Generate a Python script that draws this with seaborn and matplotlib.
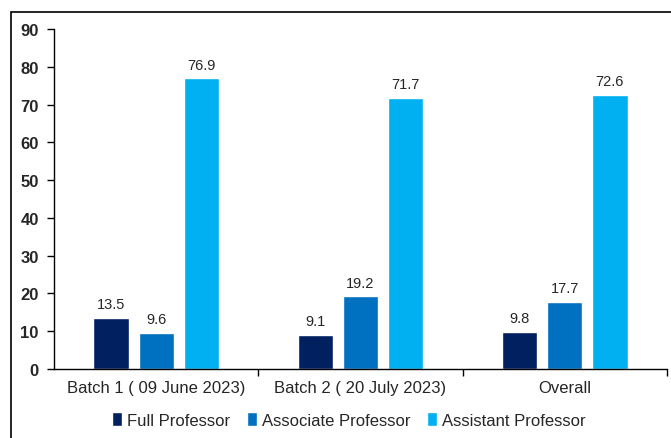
import numpy as np
import pandas as pd
import matplotlib.pyplot as plt
import seaborn as sns
from matplotlib.patches import Rectangle

batches = ['Batch 1 ( 09 June 2023)', 'Batch 2 ( 20 July 2023)', 'Overall']
ranks = ['Full Professor', 'Associate Professor', 'Assistant Professor']
full_prof = [13.5, 9.1, 9.8]
assoc_prof = [9.6, 19.2, 17.7]
asst_prof = [76.9, 71.7, 72.6]
colors = ['#002060', '#0070C0', '#00B0F0']

rows = []
for rank, vals in zip(ranks, [full_prof, assoc_prof, asst_prof]):
    for b, v in zip(batches, vals):
        rows.append({'batch': b, 'rank': rank, 'pct': v})
df = pd.DataFrame(rows)

sns.set_style('white')
plt.rcParams['font.family'] = ['Liberation Sans', 'DejaVu Sans']

fig = plt.figure(figsize=(6.71, 4.39), dpi=100)
ax = fig.add_axes([54 / 671, 69 / 439, 613 / 671, 340 / 439])

sns.barplot(data=df, x='batch', y='pct', hue='rank', order=batches,
            hue_order=ranks, palette=colors, width=0.662, gap=0.22,
            ax=ax, saturation=1, legend=True)

for c in ax.containers:
    ax.bar_label(c, fmt='%.1f', padding=5, fontsize=10.5)

ax.set_ylim(0, 90)
ax.set_yticks(np.arange(0, 91, 10))
ax.set_xlim(-0.5, 2.5)
ax.set_xlabel('')
ax.set_ylabel('')
for s in ['top', 'right']:
    ax.spines[s].set_visible(False)
for s in ['left', 'bottom']:
    ax.spines[s].set_color('black')
    ax.spines[s].set_linewidth(1)

ax.tick_params(axis='y', left=True, length=5, width=1, color='black', labelsize=12, pad=6)
for lab in ax.get_yticklabels():
    lab.set_fontweight('bold')
ax.tick_params(axis='x', which='major', length=0, labelsize=12, pad=8)
ax.set_xticks([0.5, 1.5, 2.5], minor=True)
ax.tick_params(axis='x', which='minor', bottom=True, length=5, width=1, color='black')

handles, labels = ax.get_legend_handles_labels()
ax.get_legend().remove()
fig.legend(handles, labels, loc='center', bbox_to_anchor=(349 / 671, 1 - 421 / 439),
           ncol=3, frameon=False, fontsize=12, handlelength=0.6, handleheight=0.9,
           handletextpad=0.3, columnspacing=1.0)

fig.add_artist(Rectangle((11 / 671, -0.1), 1.2, 1 - 13 / 439 + 0.1,
                         transform=fig.transFigure, fill=False,
                         edgecolor='black', linewidth=1.2))

fig.savefig('out.png', dpi=100)
